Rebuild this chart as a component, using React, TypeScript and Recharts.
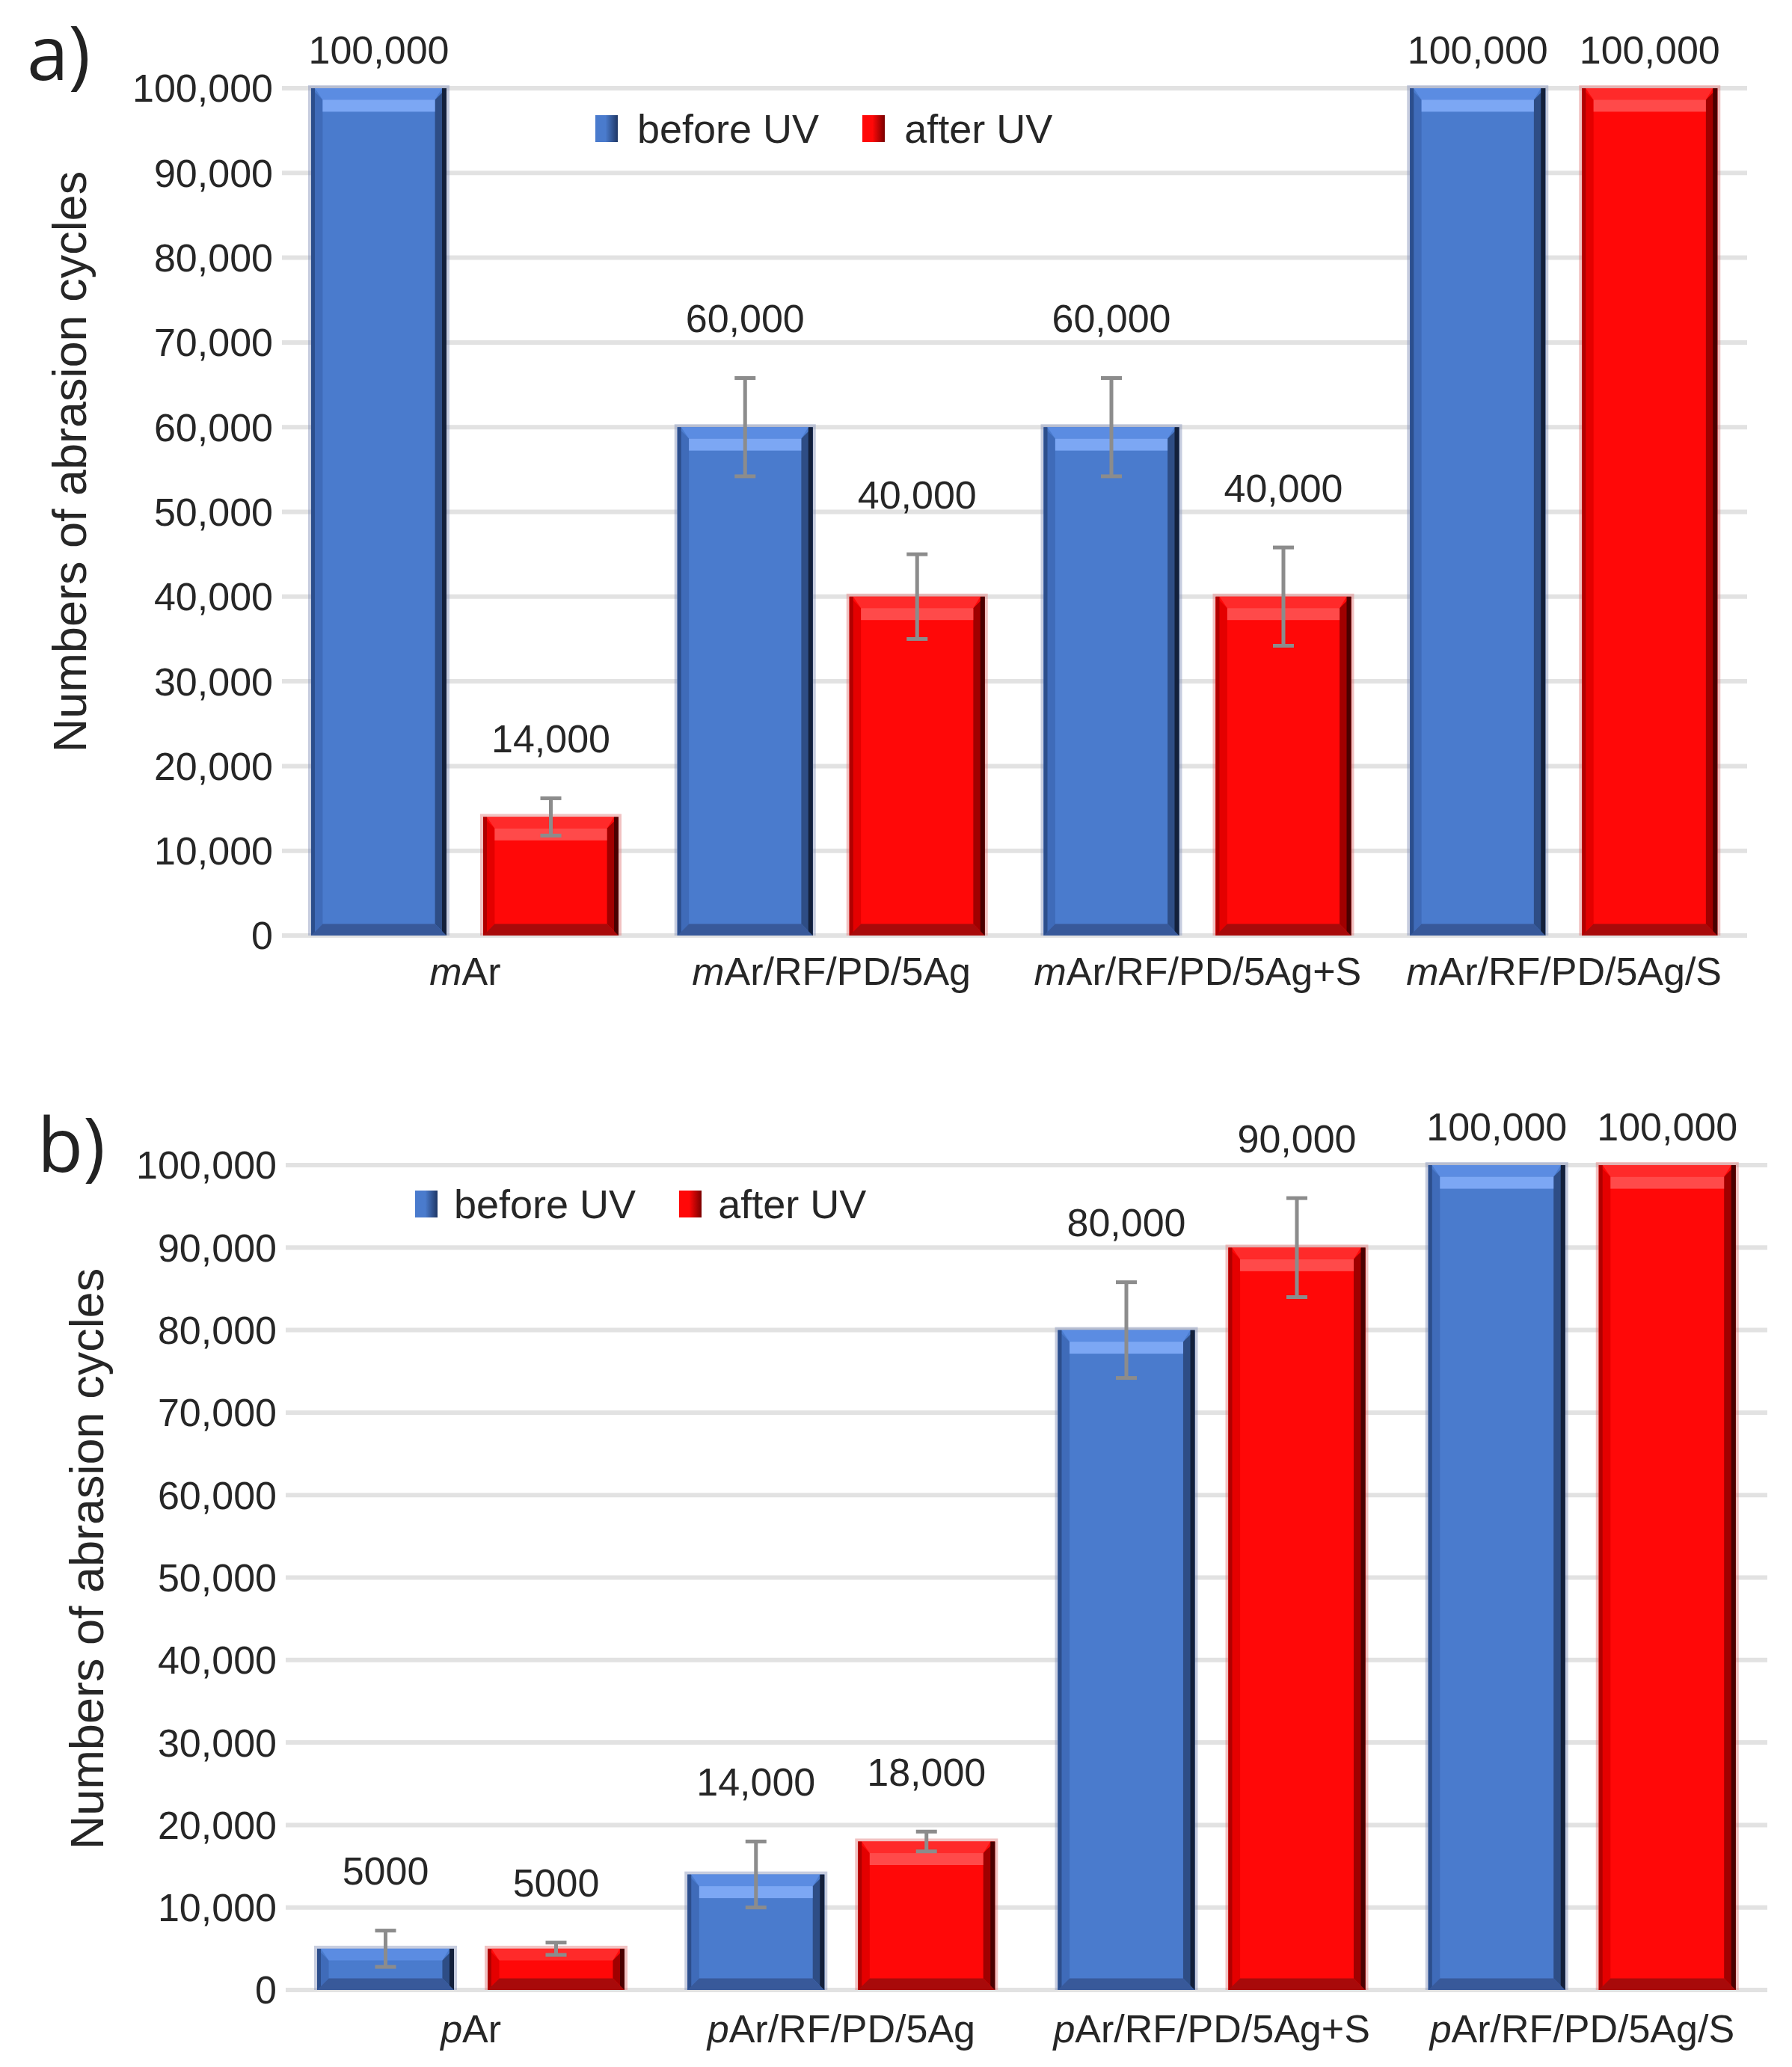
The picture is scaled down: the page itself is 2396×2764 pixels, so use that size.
import React from "react";
import { BarChart, Bar, XAxis, YAxis, CartesianGrid, ErrorBar, LabelList, Legend } from "recharts";

// panel a
const categoriesA = ["mAr", "mAr/RF/PD/5Ag", "mAr/RF/PD/5Ag+S", "mAr/RF/PD/5Ag/S"];
const beforeA = [100000, 60000, 60000, 100000];
const afterA = [14000, 40000, 40000, 100000];
const beforeErrA = [0, 5800, 5800, 0];
const afterErrA = [2200, 5000, 5800, 0];
const beforeLabelsA = ["100,000", "60,000", "60,000", "100,000"];
const afterLabelsA = ["14,000", "40,000", "40,000", "100,000"];

// panel b
const categoriesB = ["pAr", "pAr/RF/PD/5Ag", "pAr/RF/PD/5Ag+S", "pAr/RF/PD/5Ag/S"];
const beforeB = [5000, 14000, 80000, 100000];
const afterB = [5000, 18000, 90000, 100000];
const beforeErrB = [2200, 4000, 5800, 0];
const afterErrB = [750, 1200, 6000, 0];
const beforeLabelsB = ["5000", "14,000", "80,000", "100,000"];
const afterLabelsB = ["5000", "18,000", "90,000", "100,000"];

const yTicks = [0, 10000, 20000, 30000, 40000, 50000, 60000, 70000, 80000, 90000, 100000];
const seriesNames = ["before UV", "after UV"];
const yTitle = "Numbers of abrasion cycles";

const FONT = '"Liberation Sans", Arial, sans-serif';
const TEXT = "#262626";
const BLUE = "#4a7bcd";
const RED = "#ff0808";

const BEVEL: Record<string, any> = {
  [BLUE]: {
    edgeL: "#2c4e8c", side: "#3f6bb9", sideR: "#2e4d85", edgeR: "#13203b",
    top: "#5b8ce2", hi: "#82acf8", bottom: "#38599a", halo: "rgba(130,145,185,0.45)",
  },
  [RED]: {
    edgeL: "#b00000", side: "#e40000", sideR: "#a00000", edgeR: "#4a0000",
    top: "#ff2a2a", hi: "#ff5252", bottom: "#a80a0a", halo: "rgba(225,120,120,0.45)",
  },
};

function BevelBar(props: any) {
  const { x, y, width: w, height: h, fill } = props;
  if (!h || h <= 0) return null;
  const c = BEVEL[fill] || BEVEL[BLUE];
  const e = Math.min(w * 0.085, h / 3);
  const r = x + w;
  const b = y + h;
  return (
    <g>
      <rect x={x - 4} y={y - 4} width={w + 8} height={h + 4} fill={c.halo} />
      <rect x={x} y={y} width={w} height={h} fill={fill} />
      <polygon points={`${x},${y} ${x + e},${y + e} ${x + e},${b - e} ${x},${b}`} fill={c.side} />
      <rect x={x} y={y} width={5} height={h} fill={c.edgeL} />
      <polygon points={`${r},${y} ${r - e},${y + e} ${r - e},${b - e} ${r},${b}`} fill={c.sideR} />
      <rect x={r - 6} y={y} width={6} height={h} fill={c.edgeR} />
      <polygon points={`${x},${b} ${r},${b} ${r - e},${b - e} ${x + e},${b - e}`} fill={c.bottom} />
      <polygon points={`${x + 5},${y} ${r - 6},${y} ${r - e},${y + e} ${x + e},${y + e}`} fill={c.top} />
      {h > 3 * e + 18 && (
        <rect x={x + e} y={y + e} width={w - 2 * e} height={16} fill={c.hi} opacity={0.9} />
      )}
    </g>
  );
}

function CatTick(props: any) {
  const { x, y, payload } = props;
  const s: string = payload.value;
  return (
    <text x={x} y={y} dy="0.71em" textAnchor="middle" fontFamily={FONT} fontSize={52} fill={TEXT}>
      <tspan fontStyle="italic">{s[0]}</tspan>
      <tspan>{s.slice(1)}</tspan>
    </text>
  );
}

function makeValueLabel(values: number[], errs: number[]) {
  return (p: any) => {
    const vb = p.viewBox || p;
    const x = p.x ?? vb.x;
    const y = p.y ?? vb.y;
    const w = p.width ?? vb.width;
    const h = p.height ?? vb.height;
    const i = p.index;
    const errPx = values[i] ? (h * errs[i]) / values[i] : 0;
    const cy = y - errPx - (errs[i] > 0 ? 80 : 52);
    return (
      <text x={x + w / 2} y={cy} dy="0.36em" textAnchor="middle" fontFamily={FONT} fontSize={52} fill={TEXT}>
        {p.value}
      </text>
    );
  };
}

function LegendBox(props: any) {
  const { gap } = props;
  const items = [
    { name: seriesNames[0], color: BLUE, dark: "#1f3766" },
    { name: seriesNames[1], color: RED, dark: "#7a0000" },
  ];
  return (
    <div style={{ display: "flex", alignItems: "center", fontFamily: FONT, fontSize: 54, color: TEXT, whiteSpace: "nowrap" }}>
      {items.map((it, i) => (
        <div key={it.name} style={{ display: "flex", alignItems: "center", marginLeft: i === 0 ? 0 : 58 }}>
          <div
            style={{
              width: 30,
              height: 36,
              background: `linear-gradient(90deg, ${it.color} 0%, ${it.color} 45%, ${it.dark} 100%)`,
              marginRight: gap,
            }}
          />
          <span>{it.name}</span>
        </div>
      ))}
    </div>
  );
}

function Panel(props: any) {
  const {
    letter, letterX, letterY, top, height, margin, yAxisWidth, tickGap, titleX, titleShift,
    categories, before, after, beforeErr, afterErr, beforeLabels, afterLabels,
    catGap, barGap, legendLeft, legendTop, legendGap,
  } = props;
  const rows = categories.map((name: string, i: number) => ({
    name,
    before: before[i],
    after: after[i],
    beforeErr: beforeErr[i],
    afterErr: afterErr[i],
    beforeLabel: beforeLabels[i],
    afterLabel: afterLabels[i],
  }));

  const titleContent = (p: any) => {
    const vb = p.viewBox;
    const cy = vb.y + vb.height / 2 + titleShift;
    return (
      <g>
        <text
          x={titleX}
          y={cy}
          transform={`rotate(-90, ${titleX}, ${cy})`}
          textAnchor="middle"
          dy="0.36em"
          fontFamily={FONT}
          fontSize={63}
          fill={TEXT}
        >
          {yTitle}
        </text>
        <text x={letterX} y={letterY} fontFamily='"Open Sans", sans-serif' fontSize={100} fill="#222">
          {letter}
        </text>
      </g>
    );
  };

  return (
    <div style={{ position: "absolute", left: 0, top, width: 2396, height }}>
      <BarChart
        width={2396}
        height={height}
        data={rows}
        margin={margin}
        barCategoryGap={catGap}
        barGap={barGap}
      >
        <CartesianGrid vertical={false} stroke="#e2e2e2" strokeWidth={6} />
        <XAxis
          dataKey="name"
          axisLine={false}
          tickLine={false}
          tickSize={0}
          tickMargin={tickGap}
          height={100}
          tick={<CatTick />}
          interval={0}
        />
        <YAxis
          width={yAxisWidth}
          domain={[0, 100000]}
          ticks={yTicks}
          axisLine={false}
          tickLine={false}
          tickSize={0}
          tickMargin={12}
          tick={{ fontFamily: FONT, fontSize: 52, fill: TEXT }}
          tickFormatter={(v: number) => v.toLocaleString("en-US")}
          label={titleContent}
        />
        <Legend
          layout="horizontal"
          verticalAlign="middle"
          align="center"
          content={<LegendBox gap={legendGap} />}
          wrapperStyle={{ left: legendLeft, top: legendTop, width: "auto" }}
        />
        <Bar dataKey="before" name={seriesNames[0]} fill={BLUE} shape={<BevelBar />} isAnimationActive={false}>
          <ErrorBar dataKey="beforeErr" width={14} strokeWidth={5} stroke="#8c8c8c" isAnimationActive={false} />
          <LabelList dataKey="beforeLabel" content={makeValueLabel(before, beforeErr)} />
        </Bar>
        <Bar dataKey="after" name={seriesNames[1]} fill={RED} shape={<BevelBar />} isAnimationActive={false}>
          <ErrorBar dataKey="afterErr" width={14} strokeWidth={5} stroke="#8c8c8c" isAnimationActive={false} />
          <LabelList dataKey="afterLabel" content={makeValueLabel(after, afterErr)} />
        </Bar>
      </BarChart>
    </div>
  );
}

export default function App() {
  return (
    <div style={{ position: "absolute", left: 0, top: 0, width: 2396, height: 2764, background: "#fff" }}>
      <Panel
        letter="a)"
        letterX={36}
        letterY={107}
        top={0}
        height={1380}
        margin={{ top: 118, right: 60, bottom: 29, left: 0 }}
        yAxisWidth={377}
        tickGap={29}
        titleX={92}
        titleShift={-67}
        categories={categoriesA}
        before={beforeA}
        after={afterA}
        beforeErr={beforeErrA}
        afterErr={afterErrA}
        beforeLabels={beforeLabelsA}
        afterLabels={afterLabelsA}
        catGap={39}
        barGap={49}
        legendLeft={796}
        legendTop={141}
        legendGap={26}
      />
      <Panel
        letter="b)"
        letterX={50}
        letterY={127}
        top={1440}
        height={1324}
        margin={{ top: 118, right: 33, bottom: 3, left: 0 }}
        yAxisWidth={382}
        tickGap={33}
        titleX={115}
        titleShift={-25}
        categories={categoriesB}
        before={beforeB}
        after={afterB}
        beforeErr={beforeErrB}
        afterErr={afterErrB}
        beforeLabels={beforeLabelsB}
        afterLabels={afterLabelsB}
        catGap={42}
        barGap={45}
        legendLeft={555}
        legendTop={139}
        legendGap={22}
      />
    </div>
  );
}
